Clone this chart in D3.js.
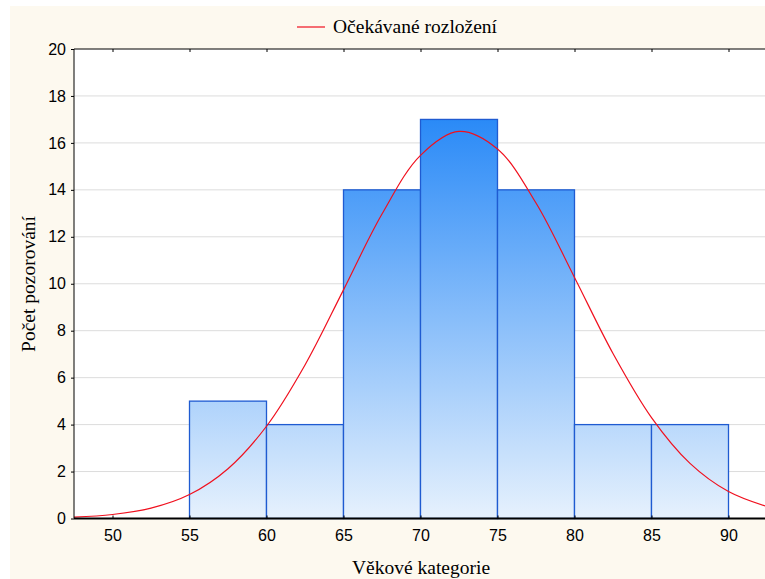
<!DOCTYPE html>
<html>
<head>
<meta charset="utf-8">
<script src="https://cdn.jsdelivr.net/npm/d3@7"></script>
<style>
  body { margin: 0; background: #fff; }
  svg { display: block; }
</style>
</head>
<body>
<svg width="765" height="579"></svg>
<script>
// bins (age category edges) and counts
const binStarts = [55, 60, 65, 70, 75, 80, 85];
const binWidth = 5;
const counts = [5, 4, 14, 17, 14, 4, 4];

// expected (normal) curve, every 2.5 years
const curveX = [47.5, 50, 52.5, 55, 57.5, 60, 62.5, 65, 67.5, 70, 72.5, 75, 77.5, 80, 82.5, 85, 87.5, 90, 92.5];
const curveY = [0.06, 0.17, 0.44, 1.02, 2.12, 3.93, 6.54, 9.74, 12.97, 15.47, 16.49, 15.74, 13.44, 10.27, 7.03, 4.30, 2.35, 1.15, 0.51];

const xTicks = [50, 55, 60, 65, 70, 75, 80, 85, 90];
const yTicks = [0, 2, 4, 6, 8, 10, 12, 14, 16, 18, 20];

const svg = d3.select("svg");
const plotL = 74, plotR = 767, plotT = 49, plotB = 518.5;

// cream page background
svg.append("rect").attr("x", 10).attr("y", 6).attr("width", 755).attr("height", 573).attr("fill", "#fdf9ef");
svg.append("rect").attr("x", plotL).attr("y", plotT).attr("width", plotR - plotL).attr("height", plotB - plotT).attr("fill", "#fff");

const x = d3.scaleLinear().domain([47.5, 92.5]).range([plotL, plotR]);
const y = d3.scaleLinear().domain([0, 20]).range([plotB, plotT]);

const defs = svg.append("defs");
const grad = defs.append("linearGradient")
    .attr("id", "barGrad")
    .attr("gradientUnits", "userSpaceOnUse")
    .attr("x1", 0).attr("x2", 0)
    .attr("y1", y(17)).attr("y2", y(0));
grad.append("stop").attr("offset", 0).attr("stop-color", "#2a8af7");
grad.append("stop").attr("offset", 1).attr("stop-color", "#e6f1fd");

// gridlines
svg.append("g").selectAll("line")
    .data(yTicks.filter(d => d > 0 && d < 20))
    .join("line")
    .attr("x1", plotL).attr("x2", plotR)
    .attr("y1", d => y(d)).attr("y2", d => y(d))
    .attr("stroke", "#dcdcdc").attr("stroke-width", 1);

// bars
svg.append("g").selectAll("rect")
    .data(binStarts)
    .join("rect")
    .attr("x", d => x(d))
    .attr("y", (d, i) => y(counts[i]))
    .attr("width", x(binWidth) - x(0))
    .attr("height", (d, i) => y(0) - y(counts[i]))
    .attr("fill", "url(#barGrad)")
    .attr("stroke", "#1f5bd1")
    .attr("stroke-width", 1.3);

// expected curve
const line = d3.line()
    .x(d => x(d[0]))
    .y(d => y(d[1]))
    .curve(d3.curveCatmullRom);
svg.append("path")
    .datum(curveX.map((v, i) => [v, curveY[i]]))
    .attr("d", line)
    .attr("fill", "none")
    .attr("stroke", "#f0101e")
    .attr("stroke-width", 1.2);

// axes
const tickFont = "Liberation Sans, Arial, sans-serif";
const yAxis = svg.append("g")
    .attr("transform", `translate(${plotL},0)`)
    .call(d3.axisLeft(y).tickValues(yTicks).tickSize(3).tickPadding(5));
const xAxis = svg.append("g")
    .attr("transform", `translate(0,${plotB})`)
    .call(d3.axisBottom(x).tickValues(xTicks).tickSize(-3).tickPadding(11));
const xTop = svg.append("g")
    .attr("transform", `translate(0,${plotT})`)
    .call(d3.axisTop(x).tickValues(xTicks).tickSize(-3).tickFormat(""));

[yAxis, xAxis, xTop].forEach(a => {
    a.select(".domain").attr("stroke", "#000");
    a.selectAll(".tick line").attr("stroke", "#000");
    a.selectAll("text").attr("font-family", tickFont).attr("font-size", 16).attr("fill", "#000");
});
xAxis.select(".domain").attr("stroke-width", 2);
yAxis.select(".domain").attr("d", `M0,${plotT}V${plotB}`);
xAxis.select(".domain").attr("d", `M${plotL},0H${plotR}`);
xTop.select(".domain").attr("d", `M${plotL},0H${plotR}`);

// titles
const serif = "Liberation Serif, Times New Roman, serif";
svg.append("text")
    .attr("x", 421).attr("y", 574)
    .attr("text-anchor", "middle")
    .attr("font-family", serif).attr("font-size", 19.5)
    .text("Věkové kategorie");
svg.append("text")
    .attr("transform", "translate(35,284) rotate(-90)")
    .attr("text-anchor", "middle")
    .attr("font-family", serif).attr("font-size", 19.5)
    .text("Počet pozorování");

// legend
svg.append("line")
    .attr("x1", 297).attr("x2", 325).attr("y1", 27).attr("y2", 27)
    .attr("stroke", "#f0101e").attr("stroke-width", 1.2);
svg.append("text")
    .attr("x", 333).attr("y", 33)
    .attr("font-family", serif).attr("font-size", 19.5)
    .text("Očekávané rozložení");
</script>
</body>
</html>
